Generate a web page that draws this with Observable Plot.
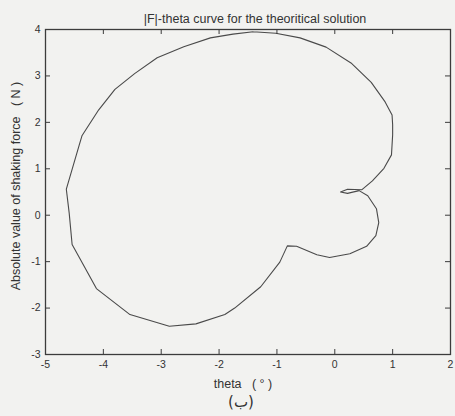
<!DOCTYPE html>
<html><head><meta charset="utf-8">
<script src="https://cdn.jsdelivr.net/npm/d3@7"></script>
<script src="https://cdn.jsdelivr.net/npm/@observablehq/plot@0.6"></script>
<style>body{margin:0;background:#f2f2f0} svg{display:block}</style>
</head><body><div id="chart"></div>
<script>
const thetaX = [-1.41, -1.02, -0.60, -0.15, 0.28, 0.63, 0.87, 0.99, 1.00, 1.00, 0.98, 0.85, 0.65, 0.47, 0.22, 0.10, 0.22, 0.42, 0.57, 0.72, 0.76, 0.71, 0.55, 0.26, -0.09, -0.31, -0.66, -0.82, -0.95, -1.28, -1.73, -1.90, -2.40, -2.86, -3.54, -4.12, -4.43, -4.54, -4.59, -4.64, -4.42, -4.37, -4.08, -3.80, -3.46, -3.07, -2.61, -2.15, -1.76, -1.41];
const forceY = [3.95, 3.92, 3.82, 3.62, 3.28, 2.86, 2.44, 2.16, 1.95, 1.73, 1.30, 1.01, 0.74, 0.55, 0.56, 0.50, 0.47, 0.53, 0.42, 0.14, -0.16, -0.44, -0.67, -0.83, -0.91, -0.85, -0.67, -0.66, -1.01, -1.54, -2.00, -2.14, -2.34, -2.39, -2.14, -1.58, -0.88, -0.63, 0.04, 0.56, 1.50, 1.71, 2.27, 2.71, 3.05, 3.39, 3.63, 3.82, 3.90, 3.95];
const xTicks = [-5, -4, -3, -2, -1, 0, 1, 2];
const yTicks = [-3, -2, -1, 0, 1, 2, 3, 4];
const title = "|F|-theta curve for the theoritical solution";
const xLabel = "theta\u00a0\u00a0\u00a0(\u00a0°\u00a0)";
const yLabel = "Absolute value of shaking force\u00a0\u00a0\u00a0(\u00a0N\u00a0)";
const caption = "(ب)";

const points = thetaX.map((x, i) => ({x, y: forceY[i]}));
const W = 455, H = 416, mL = 45, mR = 5, mT = 29, mB = 62;
const iw = W - mL - mR, ih = H - mT - mB;
const tk = 5;
const ink = "#3c3c3c";
const chart = Plot.plot({
  width: W, height: H, marginLeft: mL, marginRight: mR, marginTop: mT, marginBottom: mB,
  style: {background: "#f2f2f0", fontFamily: "'Liberation Sans', Arial, sans-serif", fontSize: "10.5px", color: "#333"},
  x: {domain: [-5, 2]},
  y: {domain: [-3, 4]},
  marks: [
    Plot.line(points, {x: "x", y: "y", stroke: "#4a4a4a", strokeWidth: 1.1}),
    Plot.tickX(xTicks, {x: d => d, insetTop: ih - tk, stroke: ink}),
    Plot.tickX(xTicks, {x: d => d, insetBottom: ih - tk, stroke: ink}),
    Plot.tickY(yTicks, {y: d => d, insetRight: iw - tk, stroke: ink}),
    Plot.tickY(yTicks, {y: d => d, insetLeft: iw - tk, stroke: ink}),
    Plot.frame({stroke: ink, strokeWidth: 1.3}),
    Plot.axisX({ticks: xTicks, tickSize: 0, tickPadding: 6, tickFormat: d => String(d), label: null}),
    Plot.axisY({ticks: yTicks, tickSize: 0, tickPadding: 5, tickFormat: d => String(d), label: null}),
    Plot.text([title], {frameAnchor: "top", dy: -15, dx: 7, fontSize: 12.5, fill: "#333"}),
    Plot.text([xLabel], {frameAnchor: "bottom", dy: 33, dx: -5, fontSize: 12.5, fill: "#333"}),
    Plot.text([yLabel], {frameAnchor: "left", textAnchor: "middle", dx: -30, dy: -6, rotate: -90, fontSize: 12.5, fill: "#333"}),
    Plot.text([caption], {frameAnchor: "bottom", dy: 52, dx: -7, fontSize: 15, fill: "#333", fontFamily: "'DejaVu Sans', sans-serif"})
  ]
});
document.getElementById("chart").append(chart);
</script>
</body></html>
